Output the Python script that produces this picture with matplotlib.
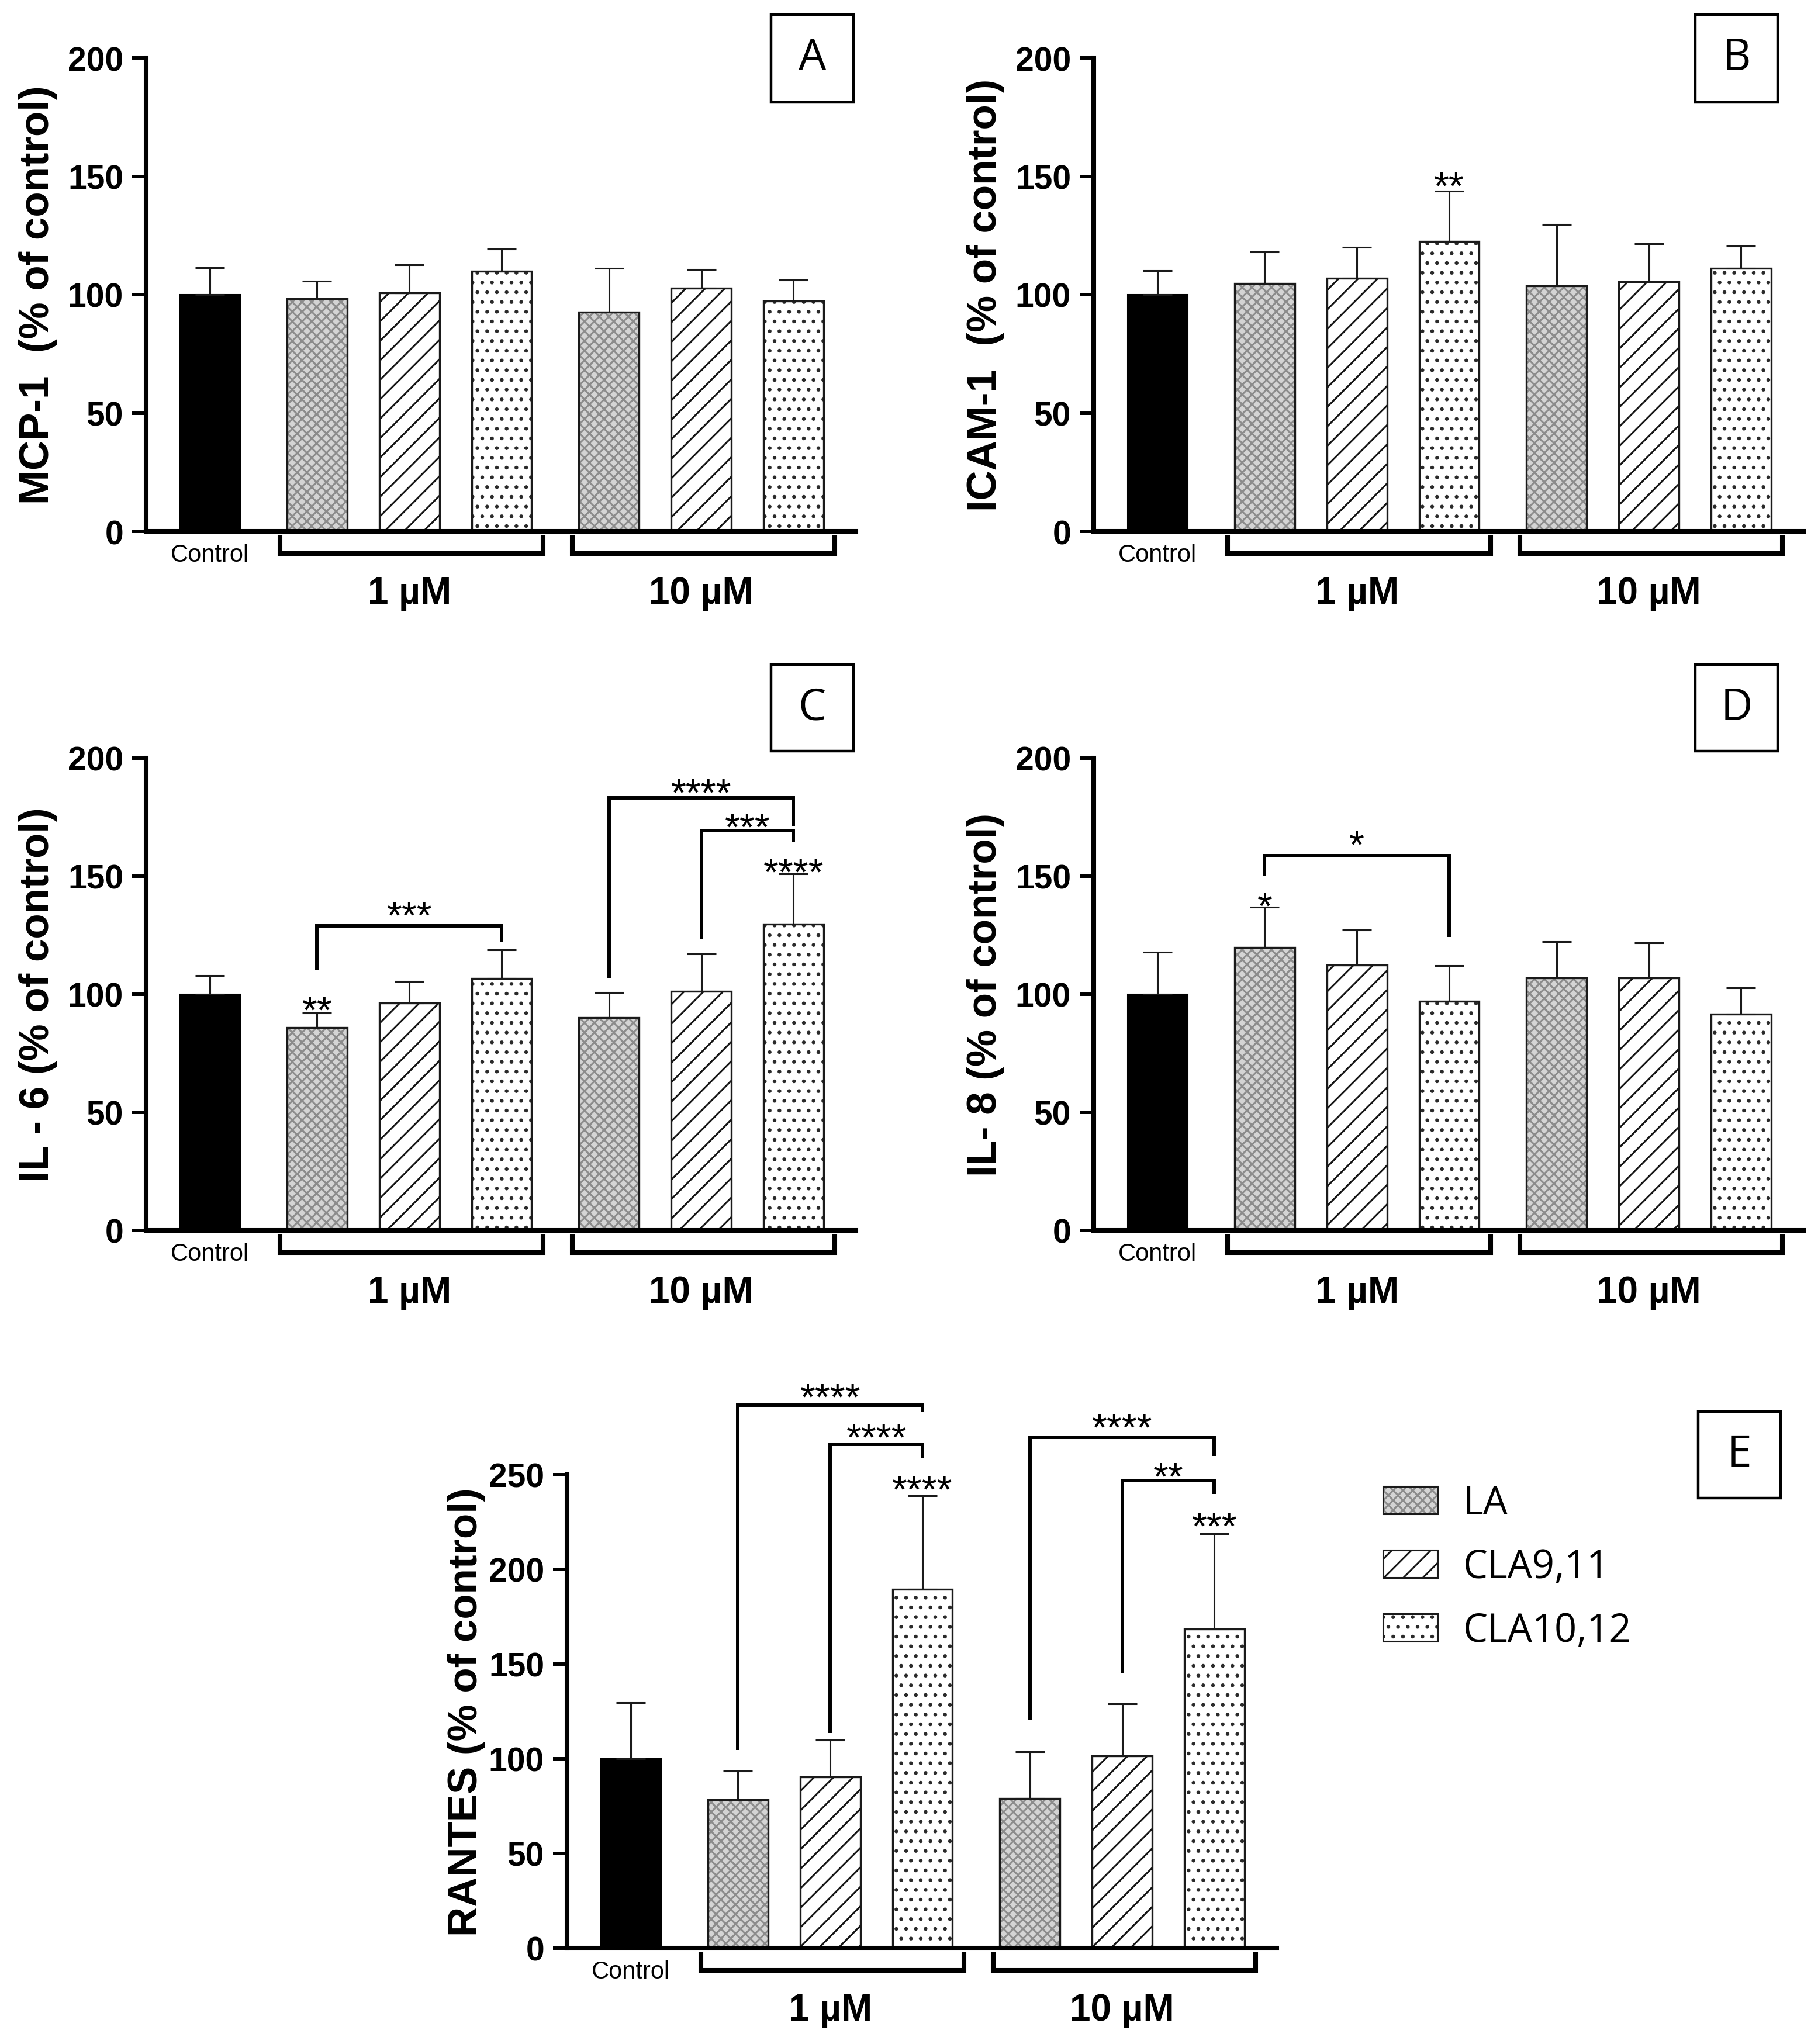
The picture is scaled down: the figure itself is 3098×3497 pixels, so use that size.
import numpy as np
import matplotlib
matplotlib.use("Agg")
import matplotlib.pyplot as plt
from matplotlib.patches import Rectangle
from matplotlib import transforms

# ------------------------------
# Data
# bar order: Control, LA/CLA9,11/CLA10,12 at 1 uM, then at 10 uM
# ------------------------------
treatments = ["LA", "CLA9,11", "CLA10,12"]
group_labels = ["1 \u00b5M", "10 \u00b5M"]
panel_letters = ["A", "B", "C", "D", "E"]
ylabels = ["MCP-1  (% of control)", "ICAM-1  (% of control)",
           "IL - 6 (% of control)", "IL- 8 (% of control)",
           "RANTES (% of control)"]

mcp1_mean = [100, 98.3, 100.7, 109.8, 92.5, 102.6, 97.4]
mcp1_err = [11.3, 7.5, 11.9, 9.4, 18.7, 7.9, 8.7]

icam1_mean = [100, 104.8, 107.0, 122.5, 103.8, 105.4, 111.2]
icam1_err = [10.2, 13.2, 13.0, 21.3, 25.8, 16.1, 9.4]

il6_mean = [100, 85.8, 96.4, 106.6, 90.1, 101.2, 129.8]
il6_err = [7.8, 6.2, 9.0, 12.2, 10.6, 15.8, 21.2]

il8_mean = [100, 119.7, 112.5, 97.1, 107.0, 107.0, 91.7]
il8_err = [17.8, 17.2, 14.8, 15.1, 15.3, 14.9, 11.1]

rantes_mean = [100, 78.3, 90.4, 189.6, 79.0, 101.6, 168.5]
rantes_err = [29.5, 15.2, 19.6, 49.4, 24.6, 27.4, 50.3]

# stars over single bars: (bar index, label, y of star centre)
marks_b = [(3, "**", 149.6)]
marks_c = [(1, "**", 96.8), (6, "****", 155.3)]
marks_d = [(1, "*", 140.9)]
marks_e = [(3, "****", 246.9), (6, "***", 227.2)]

# comparison brackets: (bar i, bar j, y line, y left end, y right end, label, y label)
brackets_c = [(1, 3, 129.0, 110.4, 122.3, "***", 136.9),
              (4, 6, 183.1, 106.6, 171.3, "****", 189.0),
              (5, 6, 169.2, 123.5, 164.3, "***", 174.4)]
brackets_d = [(1, 3, 158.6, 150.1, 124.3, "*", 167.0)]
brackets_e = [(1, 3, 286.6, 104.5, 283.0, "****", 295.6),
              (2, 3, 265.9, 113.5, 258.8, "****", 274.2),
              (4, 6, 269.9, 120.4, 260.0, "****", 279.4),
              (5, 6, 246.9, 145.3, 239.8, "**", 253.6)]

# ------------------------------
# Style
# ------------------------------
W, H = 3098, 3498
plt.rcParams['font.family'] = ['Liberation Sans', 'DejaVu Sans']
plt.rcParams['hatch.linewidth'] = 2.2

# (face, hatch colour, hatch) per treatment
styles = [("#d4d4d4", "#8c8c8c", "xx"),
          ("white", "#151515", "/"),
          ("white", "#2a2a2a", ".")]
EDGE = "#1a1a1a"

gap = 1.1625
xpos = [0.0] + [gap + k for k in range(3)] + [2 * gap + 2 + k for k in range(3)]
bar_w = 0.65


def px_rect(l, t, r, b):
    return [l / W, 1 - b / H, (r - l) / W, (b - t) / H]


fig = plt.figure(figsize=(W / 100, H / 100), dpi=100)


def draw_panel(rect, mean, err, ylabel, ymax, marks=(), brackets=(), lab_dx=-185):
    ax = fig.add_axes(px_rect(*rect))
    ax_h = rect[3] - rect[1]

    # control bar
    ax.bar(xpos[0], mean[0], bar_w, color="black", edgecolor="black", lw=2.2, zorder=2)
    # treated bars: hatch layer + outline layer
    for k in range(1, 7):
        face, hcol, hatch = styles[(k - 1) % 3]
        ax.bar(xpos[k], mean[k], bar_w, color=face, edgecolor=hcol, hatch=hatch, lw=0, zorder=1)
        ax.bar(xpos[k], mean[k], bar_w, fill=False, edgecolor=EDGE, lw=2.4, zorder=2)

    ax.errorbar(xpos, mean, yerr=[np.zeros(7), err], fmt="none", ecolor=EDGE,
                elinewidth=2.2, capsize=18, capthick=2.2, zorder=3)

    ax.set_xlim(-0.69, 7.0)
    ax.set_ylim(0, ymax)
    ax.set_yticks(np.arange(0, ymax + 1, 50))
    ax.set_xticks([])
    for s in ("top", "right"):
        ax.spines[s].set_visible(False)
    for s in ("left", "bottom"):
        ax.spines[s].set_linewidth(5.8)
    ax.tick_params(axis="y", length=17, width=4.3, pad=11, labelsize=41)
    for lab in ax.get_yticklabels():
        lab.set_fontweight("bold")

    # y label
    x_lab = lab_dx / (rect[2] - rect[0])
    ax.text(x_lab, 0.5, ylabel, transform=ax.transAxes, rotation=90,
            ha="center", va="center", fontsize=51, fontweight="bold")

    # x annotations below the axis
    tr = transforms.blended_transform_factory(ax.transData, ax.transAxes)
    ax.text(xpos[0], -40 / ax_h, "Control", transform=tr, ha="center", va="center", fontsize=30)
    for g in range(2):
        first, last = xpos[1 + 3 * g], xpos[3 + 3 * g]
        xl, xr = first - 0.40, last + 0.45
        ax.plot([xl, xl, xr, xr], [-7 / ax_h, -38 / ax_h, -38 / ax_h, -7 / ax_h],
                transform=tr, color="black", lw=5.8, clip_on=False,
                solid_joinstyle="miter", solid_capstyle="butt")
        ax.text((first + last) / 2, -106 / ax_h, group_labels[g], transform=tr,
                ha="center", va="center", fontsize=46, fontweight="bold")

    star_tr = transforms.offset_copy(ax.transData, fig=fig, y=-36, units="dots")
    for k, lab, y in marks:
        ax.text(xpos[k], y, lab, transform=star_tr, ha="center", va="baseline",
                fontsize=48, clip_on=False)
    for i, j, yl, y1, y2, lab, ylab in brackets:
        ax.plot([xpos[i], xpos[i], xpos[j], xpos[j]], [y1, yl, yl, y2],
                color="black", lw=4.3, clip_on=False,
                solid_joinstyle="miter", solid_capstyle="butt", zorder=4)
        ax.text((xpos[i] + xpos[j]) / 2, ylab, lab, transform=star_tr,
                ha="center", va="baseline", fontsize=48, clip_on=False)
    return ax


def letter_box(x0, y0, x1, y1, letter):
    fig.add_artist(Rectangle((x0 / W, 1 - y1 / H), (x1 - x0) / W, (y1 - y0) / H,
                             transform=fig.transFigure, fill=False, edgecolor="black", lw=3.2))
    fig.text((x0 + x1) / 2 / W, 1 - (y0 + y1) / 2 / H, letter, ha="center", va="center",
             fontsize=54, family=["Open Sans", "DejaVu Sans"])


axA = draw_panel((250, 100, 1464, 910), mcp1_mean, mcp1_err, ylabels[0], 200)
axB = draw_panel((1871, 100, 3085, 910), icam1_mean, icam1_err, ylabels[1], 200, marks_b)
axC = draw_panel((250, 1298, 1464, 2106), il6_mean, il6_err, ylabels[2], 200, marks_c, brackets_c)
axD = draw_panel((1871, 1298, 3085, 2106), il8_mean, il8_err, ylabels[3], 200, marks_d, brackets_d)
axE = draw_panel((970, 2524, 2184, 3334), rantes_mean, rantes_err, ylabels[4], 250,
                 marks_e, brackets_e, lab_dx=-172)

letter_box(1319, 26, 1460, 176, "A")
letter_box(2900, 26, 3041, 176, "B")
letter_box(1319, 1138, 1460, 1286, "C")
letter_box(2900, 1138, 3041, 1286, "D")
letter_box(2905, 2416, 3046, 2564, "E")

# legend
handles = []
for face, hcol, hatch in styles:
    handles.append((Rectangle((0, 0), 1, 1, facecolor=face, edgecolor=hcol, hatch=hatch, lw=0),
                    Rectangle((0, 0), 1, 1, fill=False, edgecolor=EDGE, lw=2.2)))
axE.legend(handles, treatments, loc="center left",
           bbox_to_anchor=(2366 / W, 1 - 2682 / H), bbox_transform=fig.transFigure,
           frameon=False, borderpad=0, borderaxespad=0, handlelength=1.4, handleheight=0.72,
           handletextpad=0.65, labelspacing=0.62,
           prop={"family": ["Open Sans", "DejaVu Sans"], "size": 48})

fig.savefig("out.png", dpi=100)
